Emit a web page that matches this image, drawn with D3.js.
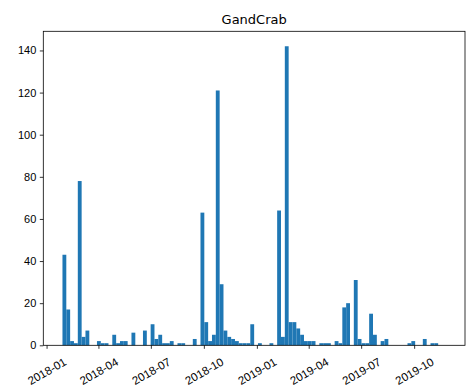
<!DOCTYPE html>
<html>
<head>
<meta charset="utf-8">
<script src="https://cdn.jsdelivr.net/npm/d3@7"></script>
<style>
  html, body { margin: 0; padding: 0; background: #fff; }
  svg { display: block; font-family: "DejaVu Sans", sans-serif; }
</style>
</head>
<body>
<svg id="chart" width="468" height="392"></svg>
<script>
// Histogram of GandCrab sample dates (100 equal-width bins)
const title = "GandCrab";
const binRangeStart = "2018-01-28T14:00:00";
const binRangeEnd = "2019-11-25T00:00:00";
const counts = [
  43, 17, 2, 1, 78, 4, 7, 0, 0, 2,
  1, 1, 0, 5, 1, 2, 2, 0, 6, 0,
  0, 7, 0, 10, 3, 5, 1, 1, 2, 0,
  1, 1, 0, 0, 3, 0, 63, 11, 2, 5,
  121, 29, 7, 4, 3, 2, 1, 1, 1, 10,
  0, 1, 0, 0, 1, 0, 64, 4, 142, 11,
  11, 8, 5, 2, 2, 2, 0, 1, 1, 1,
  0, 2, 1, 18, 20, 0, 31, 3, 1, 1,
  15, 5, 0, 2, 3, 0, 0, 0, 0, 0,
  1, 2, 0, 0, 3, 0, 1, 1, 0, 0
];
const yTicks = [0, 20, 40, 60, 80, 100, 120, 140];
const xTickDates = ["2018-01-01", "2018-04-01", "2018-07-01", "2018-10-01",
                    "2019-01-01", "2019-04-01", "2019-07-01", "2019-10-01"];

const W = 468, H = 392;
const margin = { left: 43.3, right: 3, top: 31.3, bottom: 46.7 };
const plotL = margin.left, plotR = W - margin.right;
const plotT = margin.top, plotB = H - margin.bottom;

const t0 = new Date(binRangeStart).getTime();
const t1 = new Date(binRangeEnd).getTime();
const binW = (t1 - t0) / counts.length;
const bins = counts.map((c, i) => ({ x0: new Date(t0 + i * binW), x1: new Date(t0 + (i + 1) * binW), n: c }));

// 5% padding on both sides of the data range, like matplotlib autoscale
const pad = (t1 - t0) * 0.05;
const x = d3.scaleTime()
  .domain([new Date(t0 - pad), new Date(t1 + pad)])
  .range([plotL, plotR]);
const yMax = d3.max(counts) * 1.05;
const y = d3.scaleLinear().domain([0, yMax]).range([plotB, plotT]);

const svg = d3.select("#chart");

// bars
svg.append("g")
  .selectAll("rect")
  .data(bins)
  .join("rect")
  .attr("x", d => x(d.x0))
  .attr("width", d => x(d.x1) - x(d.x0))
  .attr("y", d => y(d.n))
  .attr("height", d => y(0) - y(d.n))
  .attr("fill", "#1f77b4");

// x axis
const xAxis = d3.axisBottom(x)
  .tickValues(xTickDates.map(s => new Date(s + "T00:00:00")))
  .tickFormat(d3.timeFormat("%Y-%m"))
  .tickSize(3.5)
  .tickPadding(3.5);
const gx = svg.append("g")
  .attr("transform", `translate(0,${plotB})`)
  .call(xAxis);
gx.select(".domain").remove();
gx.selectAll(".tick line").attr("stroke", "#000").attr("stroke-width", 0.8);
gx.selectAll(".tick text")
  .attr("font-size", 11.5)
  .attr("fill", "#000")
  .attr("text-anchor", "middle")
  .attr("dominant-baseline", "central")
  .attr("y", null).attr("dy", null)
  .attr("transform", "translate(0,26) rotate(-30)");

// y axis
const yAxis = d3.axisLeft(y)
  .tickValues(yTicks)
  .tickSize(3.5)
  .tickPadding(3.5);
const gy = svg.append("g")
  .attr("transform", `translate(${plotL},0)`)
  .call(yAxis);
gy.select(".domain").remove();
gy.selectAll(".tick line").attr("stroke", "#000").attr("stroke-width", 0.8);
gy.selectAll(".tick text").attr("font-size", 11).attr("fill", "#000");

// frame
svg.append("rect")
  .attr("x", plotL).attr("y", plotT)
  .attr("width", plotR - plotL).attr("height", plotB - plotT)
  .attr("fill", "none").attr("stroke", "#000").attr("stroke-width", 0.8);

// title
svg.append("text")
  .attr("x", (plotL + plotR) / 2)
  .attr("y", 24)
  .attr("text-anchor", "middle")
  .attr("font-size", 13)
  .attr("fill", "#000")
  .text(title);
</script>
</body>
</html>
